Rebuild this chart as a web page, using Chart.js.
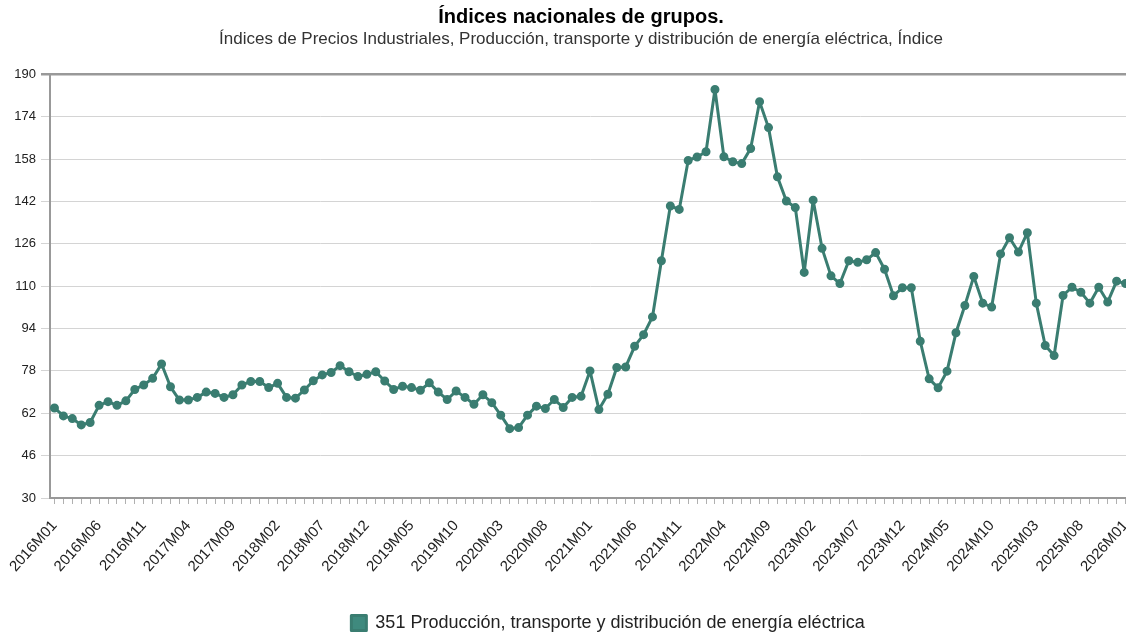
<!DOCTYPE html>
<html lang="es">
<head>
  <meta charset="UTF-8">
  <title>Índices nacionales de grupos</title>
  <script src="https://cdn.jsdelivr.net/npm/chart.js"></script>
  <style>
    body { margin: 0; overflow: hidden; background: #fff; }
    #caja { width: 1162px; height: 642px; }
  </style>
</head>
<body>
  <div id="caja"><canvas id="grafico"></canvas></div>

<script>
  // Datos: índice mensual 2016M01 - 2026M01
  var anios = [2016, 2017, 2018, 2019, 2020, 2021, 2022, 2023, 2024, 2025, 2026];
  var serie = '351 Producción, transporte y distribución de energía eléctrica';
  var valores = [
    64, 61, 60, 57.6, 58.5, 65, 66.4, 65, 66.7, 71, 72.7, 75.2,
    80.6, 72, 67, 67, 68, 70, 69.5, 68, 69, 72.7, 74, 74,
    71.7, 73.3, 68, 67.7, 70.8, 74.3, 76.5, 77.4, 80, 77.7, 75.9, 76.7,
    77.7, 74.2, 71, 72.2, 71.7, 70.7, 73.5, 70, 67.2, 70.4, 68, 65.4,
    69, 66, 61.3, 56.2, 56.6, 61.3, 64.7, 63.8, 67.2, 64.2, 68, 68.4,
    78, 63.4, 69.2, 79.3, 79.5, 87.3, 91.7, 98.4, 119.6, 140.3, 139, 157.5,
    158.8, 160.8, 184.3, 158.9, 157, 156.3, 162, 179.7, 169.9, 151.3, 142.2, 139.7,
    115.2, 142.5, 124.3, 113.9, 111, 119.6, 119, 120, 122.7, 116.4, 106.4, 109.4,
    109.4, 89.2, 75, 71.6, 77.9, 92.4, 102.7, 113.7, 103.6, 102.1, 122.2, 128.3,
    122.9, 130.2, 103.6, 87.6, 83.8, 106.5, 109.6, 107.7, 103.6, 109.6, 104, 111.9,
    111
  ];
  var ticksY = [30, 46, 62, 78, 94, 110, 126, 142, 158, 174, 190];

  // etiquetas tipo 2016M01
  var etiquetas = [];
  for (var a = 0; a < anios.length; a++) {
    for (var m = 1; m <= 12; m++) {
      if (etiquetas.length < valores.length) {
        etiquetas.push(anios[a] + 'M' + (m < 10 ? '0' + m : m));
      }
    }
  }

  var color = '#3a7d71';

  // la leyenda va un poco a la derecha del centro del titulo
  var moverLeyenda = {
    id: 'moverLeyenda',
    afterLayout: function (chart) {
      chart.legend.left += 27;
      chart.legend.right += 27;
    }
  };

  new Chart(document.getElementById('grafico'), {
    type: 'line',
    data: {
      labels: etiquetas,
      datasets: [{
        label: serie,
        data: valores,
        borderColor: color,
        backgroundColor: '#3f8a7e',
        borderWidth: 3,
        borderJoinStyle: 'round',
        pointRadius: 3,
        pointBackgroundColor: color,
        pointBorderColor: color,
        tension: 0
      }]
    },
    plugins: [moverLeyenda],
    options: {
      responsive: true,
      maintainAspectRatio: false,
      animation: false,
      layout: { padding: 0 },
      plugins: {
        title: {
          display: true,
          text: 'Índices nacionales de grupos.',
          color: '#000',
          font: { family: 'Liberation Sans', size: 20, weight: 'bold' },
          padding: { top: 5, bottom: 0 }
        },
        subtitle: {
          display: true,
          text: 'Índices de Precios Industriales, Producción, transporte y distribución de energía eléctrica, Índice',
          color: '#333',
          font: { family: 'Liberation Sans', size: 17 },
          padding: { top: 0, bottom: 25 }
        },
        legend: {
          position: 'bottom',
          labels: {
            boxWidth: 15,
            boxHeight: 15,
            color: '#222',
            padding: 8,
            font: { family: 'Liberation Sans', size: 18 }
          }
        },
        tooltip: { enabled: false }
      },
      scales: {
        x: {
          offset: true,
          grid: {
            drawOnChartArea: false,
            drawTicks: true,
            tickLength: 6,
            color: '#b0b0b0'
          },
          border: { color: '#999', width: 2 },
          ticks: {
            autoSkip: false,
            minRotation: 48,
            maxRotation: 48,
            padding: 13,
            color: '#222',
            font: { family: 'Liberation Sans', size: 15 },
            callback: function (v, i) { return i % 5 === 0 ? etiquetas[i] : ''; }
          },
          afterFit: function (s) {
            s.paddingLeft = 0;
            s.paddingRight = 32;
            s.height = 108;
          }
        },
        y: {
          min: 30,
          max: 190,
          afterBuildTicks: function (s) {
            s.ticks = ticksY.map(function (v) { return { value: v }; });
          },
          afterFit: function (s) { s.width = 50; },
          grid: {
            tickLength: 9,
            color: function (c) { return c.tick && c.tick.value === 190 ? '#999' : '#d4d4d4'; },
            lineWidth: function (c) { return c.tick && c.tick.value === 190 ? 2.5 : 1; }
          },
          border: { color: '#999', width: 2 },
          ticks: {
            color: '#222',
            padding: 5,
            font: { family: 'Liberation Sans', size: 13 }
          }
        }
      }
    }
  });
</script>
</body>
</html>
